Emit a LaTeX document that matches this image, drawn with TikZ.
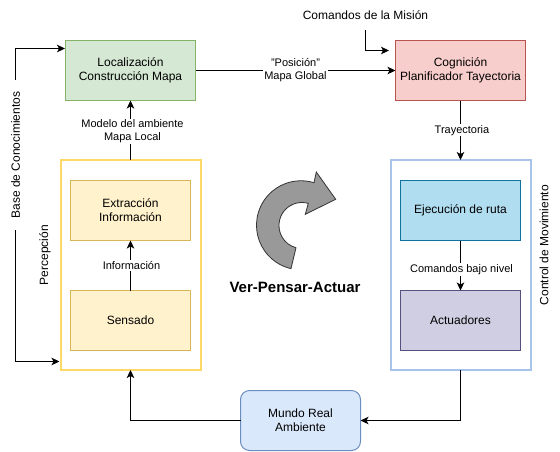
\documentclass[tikz,border=0pt]{standalone}
\usepackage{fontspec}
\setmainfont{Liberation Sans}
\usetikzlibrary{arrows.meta}
\definecolor{verdefill}{HTML}{D5E8D4}
\definecolor{verdeline}{HTML}{82B366}
\definecolor{rojofill}{HTML}{F8CECC}
\definecolor{rojoline}{HTML}{B85450}
\definecolor{amarillofill}{HTML}{FFF2CC}
\definecolor{amarilloline}{HTML}{D6B656}
\definecolor{amarilloborde}{HTML}{FFD966}
\definecolor{azulborde}{HTML}{A9C4EB}
\definecolor{celestefill}{HTML}{B1DDF0}
\definecolor{celesteline}{HTML}{10739E}
\definecolor{lilafill}{HTML}{D0CEE2}
\definecolor{lilaline}{HTML}{56517E}
\definecolor{mundofill}{HTML}{DAE8FC}
\definecolor{mundoline}{HTML}{6C8EBF}
\definecolor{flechafill}{HTML}{999999}
\tikzset{
  caja/.style={draw, line width=1pt, minimum width=#1, minimum height=60pt,
    inner sep=0pt, outer sep=0pt, align=center, font=\fontsize{12}{14}\selectfont},
  caja/.default=130pt,
  grupo/.style={draw=#1, line width=2pt, minimum width=140pt, minimum height=210pt,
    inner sep=0pt, outer sep=0pt},
  conn/.style={line width=1pt, -{Stealth[length=8pt,width=7.5pt,inset=2pt]}},
  etiqueta/.style={fill=white, inner sep=1pt, align=center,
    font=\fontsize{11}{13}\selectfont},
  rotulo/.style={inner sep=0pt, outer sep=0pt, font=\fontsize{12}{14}\selectfont}
}
\begin{document}
\begin{tikzpicture}[x=1pt, y=1pt]
  \useasboundingbox (0,0) rectangle (560,-451);

  \node[grupo=amarilloborde] (percepcion) at (130.5,-265) {};
  \node[grupo=azulborde] (control) at (460.5,-265) {};

  \node[caja, fill=verdefill, draw=verdeline] (localizacion) at (130.5,-70.5)
    {Localización\\Construcción Mapa};
  \node[caja, fill=rojofill, draw=rojoline] (cognicion) at (460.5,-70.5)
    {Cognición\\Planificador Tayectoria};
  \node[caja=120pt, fill=amarillofill, draw=amarilloline] (extraccion) at (130.5,-210.5)
    {Extracción\\Información};
  \node[caja=120pt, fill=amarillofill, draw=amarilloline] (sensado) at (130.5,-320.5)
    {Sensado};
  \node[caja=120pt, fill=celestefill, draw=celesteline] (ejecucion) at (460.5,-210.5)
    {Ejecución de ruta};
  \node[caja=120pt, fill=lilafill, draw=lilaline] (actuadores) at (460.5,-320.5)
    {Actuadores};
  \node[caja=120pt, fill=mundofill, draw=mundoline, rounded corners=9pt] (mundo) at (300.5,-420.5)
    {Mundo Real\\Ambiente};

  \node[rotulo, minimum height=30pt] (comandos) at (365.5,-15) {Comandos de la Misión};
  \node[rotulo, rotate=90, minimum width=150pt] (baseconoc) at (15.5,-155) {Base de Conocimientos};
  \node[rotulo, rotate=90] (rotpercepcion) at (45,-255) {Percepción};
  \node[rotulo, rotate=90] (rotcontrol) at (544,-245) {Control de Movimiento};
  \node[inner sep=0pt, font=\fontsize{15}{17}\selectfont\bfseries] (lema) at (295,-287) {Ver-Pensar-Actuar};

  \coordinate (locin) at (65,-48.5);
  \coordinate (percin) at (59.5,-361.5);
  \coordinate (cogin) at (389,-50.5);

  \draw[conn] (baseconoc.east) |- (locin);
  \draw[conn] (baseconoc.west) |- (percin);
  \draw[conn] (comandos.south) |- (cogin);
  \draw[conn] (localizacion.east) -- node[etiqueta] {"Posición"\\Mapa Global} (cognicion.west);
  \draw[conn] (percepcion.north) -- node[etiqueta, pos=0.48, xshift=2pt] {Modelo del ambiente\\Mapa Local} (localizacion.south);
  \draw[conn] (sensado.north) -- node[etiqueta, xshift=1pt] {Información} (extraccion.south);
  \draw[conn] (cognicion.south) -- node[etiqueta, xshift=1.5pt] {Trayectoria} (control.north);
  \draw[conn] (ejecucion.south) -- node[etiqueta, pos=0.58, xshift=1pt] {Comandos bajo nivel} (actuadores.north);
  \draw[conn] (control.south) |- (mundo.east);
  \draw[conn] (mundo.west) -| (percepcion.south);

  \draw[fill=flechafill, draw=black!80, line width=0.8pt]
    (335.7,-199.3) -- (316.3,-172) -- (314,-182.7)
    arc[start angle=73, end angle=257, radius=44.5]
    -- (296,-247.7) arc[start angle=255, end angle=74, radius=23]
    -- (305.3,-214.3) -- cycle;
\end{tikzpicture}
\end{document}
